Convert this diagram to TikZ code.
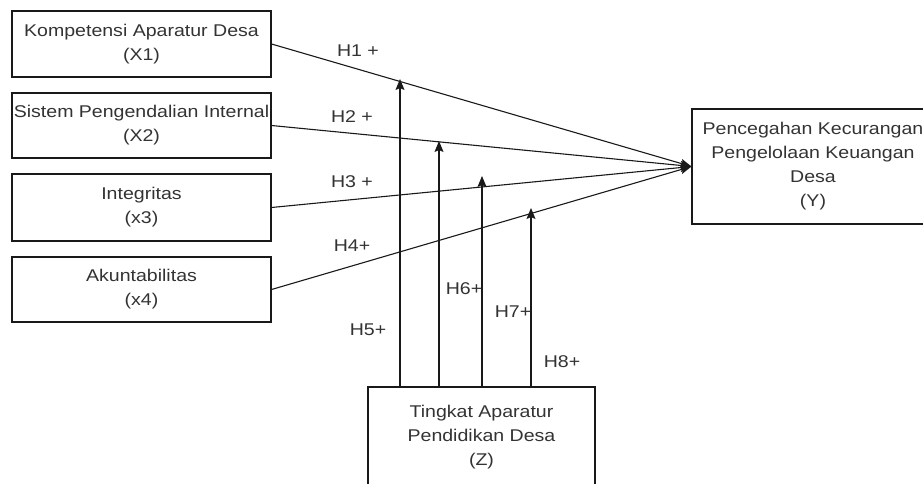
\documentclass[tikz,border=0pt]{standalone}
\usepackage{fontspec}
\setmainfont{Liberation Sans}[FakeStretch=1.15]
\usetikzlibrary{arrows.meta}
\begin{document}
\begin{tikzpicture}[x=1pt,y=-1pt,
  box/.style={draw=black!90, line width=1.1pt, align=center, inner sep=0pt,
    font=\fontsize{17}{24}\selectfont, text=black!80},
  lbl/.style={font=\fontsize{17}{20}\selectfont, inner sep=0pt, text=black!80},
  con/.style={draw=black!90, line width=1.1pt, -{Stealth[length=11pt,width=9pt,inset=2pt]}}]
\useasboundingbox (0,0) rectangle (923,484);
% boxes
\node[box, minimum width=259pt, minimum height=66pt] (x1) at (141.5,44) {Kompetensi Aparatur Desa\\(X1)};
\node[box, minimum width=259pt, minimum height=65pt] (x2) at (141.5,125.5) {Sistem Pengendalian Internal\\(X2)};
\node[box, minimum width=259pt, minimum height=67pt] (x3) at (141.5,207.5) {Integritas\\(x3)};
\node[box, minimum width=259pt, minimum height=65pt] (x4) at (141.5,289.5) {Akuntabilitas\\(x4)};
\node[box, minimum width=242pt, minimum height=115pt] (y) at (813,166.5) {Pencegahan Kecurangan\\Pengelolaan Keuangan\\Desa\\(Y)};
\node[box, minimum width=227pt, minimum height=101pt] (z) at (481.5,437.5) {Tingkat Aparatur\\Pendidikan Desa\\(Z)};
% main paths
\draw[con] (x1.east) -- (y.west);
\draw[con] (x2.east) -- (y.west);
\draw[con] (x3.east) -- (y.west);
\draw[con] (x4.east) -- (y.west);
% moderation tips
\coordinate (t1) at (400,79);
\coordinate (t2) at (439,141);
\coordinate (t3) at (482,176);
\coordinate (t4) at (531,208);
\draw[con] (t1 |- z.north) -- (t1);
\draw[con] (t2 |- z.north) -- (t2);
\draw[con] (t3 |- z.north) -- (t3);
\draw[con] (t4 |- z.north) -- (t4);
% labels
\node[lbl] (l1) at (358,51) {H1 +};
\node[lbl] (l2) at (352,117) {H2 +};
\node[lbl] (l3) at (352,182) {H3 +};
\node[lbl] (l4) at (352,246) {H4+};
\node[lbl] (l5) at (368,330) {H5+};
\node[lbl] (l6) at (464,289) {H6+};
\node[lbl] (l7) at (513,312) {H7+};
\node[lbl] (l8) at (562,362) {H8+};
\end{tikzpicture}
\end{document}
